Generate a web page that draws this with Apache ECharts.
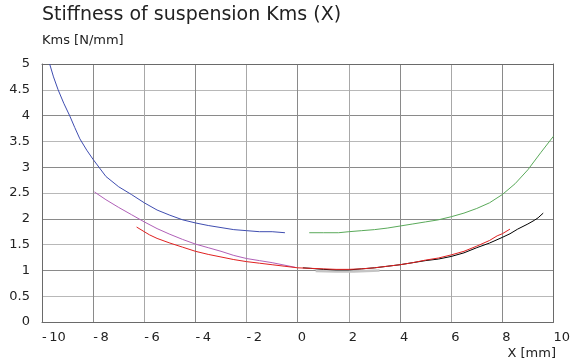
<!DOCTYPE html>
<html>
<head>
<meta charset="utf-8">
<script src="https://cdn.jsdelivr.net/npm/echarts@6/dist/echarts.min.js"></script>
<style>
  html, body { margin: 0; padding: 0; background: #fff; }
  #chart { width: 573px; height: 364px; }
</style>
</head>
<body>
<div id="chart"></div>
<script>
// Stiffness of suspension Kms versus displacement X, several measurement branches
const titleText = 'Stiffness of suspension Kms (X)';
const yAxisTitle = 'Kms [N/mm]';
const xAxisTitle = 'X [mm]';

const xTicks = [-10, -8, -6, -4, -2, 0, 2, 4, 6, 8, 10];
const yTicks = [0, 0.5, 1, 1.5, 2, 2.5, 3, 3.5, 4, 4.5, 5];

// Blue branch (negative displacement, upper)
const blueX = [-9.7, -9.55, -9.37, -9.15, -8.91, -8.72, -8.52, -8.25, -8.0, -7.5, -7.0, -6.5, -6.0, -5.5, -5.0, -4.5, -4.0, -3.5, -3.0, -2.5, -2.0, -1.5, -1.0, -0.5];
const blueY = [5.0, 4.75, 4.5, 4.24, 3.99, 3.77, 3.55, 3.33, 3.15, 2.82, 2.62, 2.47, 2.31, 2.17, 2.07, 1.98, 1.92, 1.87, 1.83, 1.79, 1.77, 1.75, 1.75, 1.73];

// Purple branch
const purpleX = [-7.95, -7.5, -7.0, -6.5, -6.0, -5.5, -5.0, -4.5, -4.0, -3.5, -3.0, -2.5, -2.0, -1.5, -1.0, -0.5, -0.1];
const purpleY = [2.52, 2.37, 2.22, 2.08, 1.94, 1.81, 1.70, 1.60, 1.51, 1.44, 1.37, 1.29, 1.23, 1.19, 1.15, 1.10, 1.06];

// Red branch
const redX = [-6.3, -5.8, -5.5, -5.0, -4.5, -4.0, -3.5, -3.0, -2.5, -2.0, -1.5, -1.0, -0.5, 0.0, 0.5, 1.0, 1.5, 2.0, 2.5, 3.0, 3.5, 4.0, 4.5, 5.0, 5.5, 6.0, 6.5, 7.0, 7.5, 7.8, 8.0, 8.3];
const redY = [1.84, 1.69, 1.62, 1.53, 1.45, 1.37, 1.31, 1.26, 1.21, 1.17, 1.14, 1.11, 1.08, 1.05, 1.04, 1.03, 1.02, 1.02, 1.03, 1.05, 1.08, 1.11, 1.15, 1.20, 1.24, 1.30, 1.37, 1.47, 1.58, 1.67, 1.71, 1.80];

// Black branch
const blackX = [0.2, 0.5, 1.0, 1.5, 2.0, 2.5, 3.0, 3.5, 4.0, 4.5, 5.0, 5.5, 6.0, 6.5, 7.0, 7.5, 8.0, 8.3, 8.6, 9.0, 9.25, 9.4, 9.6];
const blackY = [1.05, 1.04, 1.02, 1.01, 1.01, 1.03, 1.05, 1.08, 1.11, 1.15, 1.19, 1.22, 1.27, 1.34, 1.44, 1.53, 1.64, 1.71, 1.80, 1.90, 1.97, 2.02, 2.11];

// Green branch (positive displacement, upper)
const greenX = [0.45, 1.0, 1.6, 2.0, 2.5, 3.0, 3.5, 4.0, 4.5, 5.0, 5.5, 6.0, 6.5, 7.0, 7.5, 8.0, 8.5, 9.0, 9.5, 10.0];
const greenY = [1.73, 1.73, 1.73, 1.75, 1.77, 1.79, 1.82, 1.86, 1.90, 1.94, 1.98, 2.04, 2.11, 2.20, 2.31, 2.47, 2.68, 2.95, 3.28, 3.60];

// Gray trace around the minimum
const grayX = [0.7, 1.5, 2.2, 3.2];
const grayY = [0.99, 0.98, 0.98, 1.0];

const pairs = (xs, ys) => xs.map((x, i) => [x, ys[i]]);
const FONT = 'DejaVu Sans';
const BORDER = '#6a6a6a';

const lineSeries = (data, color, width, z) => ({
  type: 'line',
  data: data,
  showSymbol: false,
  symbol: 'none',
  smooth: false,
  z: z,
  lineStyle: { color: color, width: width },
  emphasis: { disabled: true },
  animation: false
});

const chart = echarts.init(document.getElementById('chart'), null, { renderer: 'canvas' });
chart.setOption({
  animation: false,
  backgroundColor: '#fff',
  grid: { left: 42, top: 64, right: 16, bottom: 42, show: false },
  xAxis: [
    {
      type: 'value', position: 'bottom',
      min: -10, max: 10, interval: 2,
      axisLine: { show: true, onZero: false, lineStyle: { color: BORDER, width: 1 } },
      axisTick: { show: false },
      axisLabel: {
        show: true, color: '#222', fontFamily: FONT, fontSize: 13,
        align: 'left', margin: 9,
        formatter: v => (v < 0 ? '-\u2009' + Math.abs(v) : String(v))
      },
      splitLine: { show: true, lineStyle: { color: ['#a8a8a8', '#8a8a8a'] } }
    },
    {
      type: 'value', position: 'top',
      min: -10, max: 10, interval: 2,
      axisLine: { show: true, onZero: false, lineStyle: { color: BORDER, width: 1 } },
      axisTick: { show: false }, axisLabel: { show: false }, splitLine: { show: false }
    }
  ],
  yAxis: [
    {
      type: 'value', position: 'left',
      min: 0, max: 5, interval: 0.5,
      axisLine: { show: true, onZero: false, lineStyle: { color: BORDER, width: 1 } },
      axisTick: { show: false },
      axisLabel: { show: true, color: '#222', fontFamily: FONT, fontSize: 13, margin: 12 },
      splitLine: { show: true, lineStyle: { color: ['#8a8a8a', '#b8b8b8'] } }
    },
    {
      type: 'value', position: 'right',
      min: 0, max: 5, interval: 0.5,
      axisLine: { show: true, onZero: false, lineStyle: { color: BORDER, width: 1 } },
      axisTick: { show: false }, axisLabel: { show: false }, splitLine: { show: false }
    }
  ],
  graphic: [
    { type: 'text', left: 42, top: 6, style: { text: titleText, font: '19px "DejaVu Sans"', fill: '#222' } },
    { type: 'text', left: 42, top: 34, style: { text: yAxisTitle, font: '13px "DejaVu Sans"', fill: '#222' } },
    { type: 'text', right: 17, top: 347, style: { text: xAxisTitle, font: '13px "DejaVu Sans"', fill: '#222' } }
  ],
  series: [
    lineSeries(pairs(grayX, grayY), '#c4c4c4', 2.5, 1),
    lineSeries(pairs(blueX, blueY), '#3f4db0', 1, 3),
    lineSeries(pairs(purpleX, purpleY), '#b060b8', 1, 3),
    lineSeries(pairs(greenX, greenY), '#5aaa5a', 1, 3),
    lineSeries(pairs(blackX, blackY), '#000000', 1, 4),
    lineSeries(pairs(redX, redY), '#e02020', 1, 5)
  ]
});
</script>
</body>
</html>
